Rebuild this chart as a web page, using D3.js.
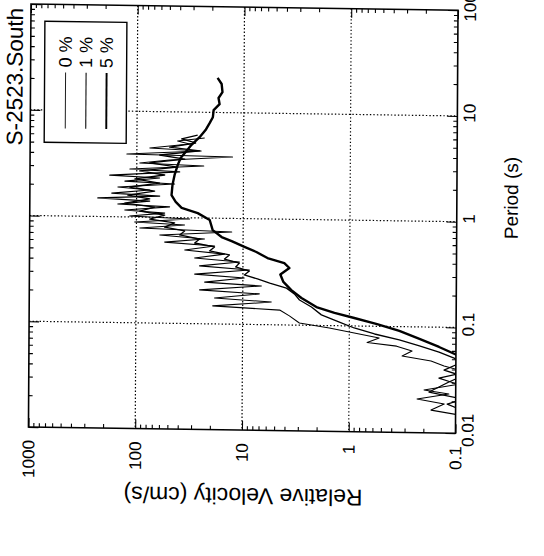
<!DOCTYPE html>
<html><head><meta charset="utf-8">
<script src="https://cdn.jsdelivr.net/npm/d3@7"></script>
<style>
html,body{margin:0;padding:0;background:#fff;}
svg{display:block;}
text{font-family:"Liberation Sans",Arial,Helvetica,sans-serif;fill:#000;}
</style></head><body>
<svg id="chart" width="544" height="556"></svg>
<script>
// Axis ticks and labels
const velocityTicks = [1000, 100, 10, 1, 0.1];
const velocityTickLabels = ["1000", "100", "10", "1", "0.1"];
const periodTicks = [0.01, 0.1, 1, 10, 100];
const periodTickLabels = ["0.01", "0.1", "1", "10", "100"];
const seriesNames = ["0 %", "1 %", "5 %"];
const seriesWidths = [1.1, 1.3, 2.4];

// 0 % damping: period (s) and relative velocity (cm/s)
const period0 = [5.71, 5.30, 4.99, 4.51, 4.30, 3.94, 3.81, 3.50, 3.25, 3.10, 2.84, 2.71, 2.47, 2.36, 2.18, 2.08, 1.91, 1.81, 1.67, 1.59, 1.50, 1.42, 1.32, 1.26, 1.16, 1.10, 1.02, 0.975, 0.897, 0.853, 0.789, 0.743, 0.682, 0.633, 0.585, 0.546, 0.495, 0.459, 0.418, 0.388, 0.352, 0.327, 0.294, 0.274, 0.248, 0.232, 0.209, 0.195, 0.176, 0.164, 0.148, 0.138, 0.122, 0.105, 0.0948, 0.0875, 0.0776, 0.070, 0.0653, 0.059, 0.0528, 0.0478, 0.043, 0.038, 0.033, 0.029, 0.0254, 0.0234, 0.0208, 0.0188, 0.0164, 0.0148];
const vel0 = [23.2, 41.6, 32.1, 75.7, 25.0, 124, 12.7, 49.3, 93.8, 23.6, 116, 39.6, 179, 61, 129, 44.1, 150, 75.5, 171, 60.7, 231, 75.3, 150, 49, 129, 54.4, 116, 31.8, 104, 35.4, 93, 12.8, 60.4, 23, 54.3, 18.5, 35.2, 14.9, 28.4, 10.8, 25.5, 8.7, 28.3, 9.7, 22.8, 6.7, 25.4, 7.0, 18.4, 5.4, 19.1, 4.5, 3.65, 2.94, 1.54, 1.0, 0.525, 0.68, 0.36, 0.258, 0.319, 0.171, 0.129, 0.08, 0.144, 0.095, 0.198, 0.116, 0.23, 0.128, 0.17, 0.09];

// 1 % damping
const period1 = [6.08, 5.55, 5.11, 4.64, 4.30, 3.89, 3.59, 3.26, 3.01, 2.73, 2.52, 2.29, 2.11, 1.92, 1.77, 1.61, 1.49, 1.35, 1.25, 1.14, 1.05, 0.96, 0.89, 0.81, 0.75, 0.686, 0.632, 0.579, 0.535, 0.489, 0.451, 0.412, 0.379, 0.348, 0.320, 0.293, 0.270, 0.248, 0.223, 0.197, 0.173, 0.149, 0.126, 0.108, 0.0957, 0.0845, 0.0748, 0.066, 0.0582, 0.0513, 0.046, 0.0394, 0.0348, 0.0304, 0.0243, 0.021, 0.0188, 0.016];
const vel1 = [27.0, 38.1, 28.2, 49.3, 25.8, 61.1, 35.6, 75.7, 41.4, 93.8, 54.7, 104, 61, 116, 67.8, 121, 75.3, 129, 67.6, 93.3, 54.4, 75.2, 43.9, 54.4, 35.3, 39.3, 25.5, 28.4, 18.5, 20.6, 13.4, 14.9, 10.8, 11.7, 8.7, 9.7, 7.3, 5.6, 3.9, 3.29, 2.94, 2.27, 1.83, 1.24, 0.90, 0.58, 0.34, 0.22, 0.144, 0.104, 0.092, 0.129, 0.087, 0.116, 0.178, 0.085, 0.12, 0.08];

// 5 % damping
const period5 = [21.2, 18.6, 15.6, 13.7, 12.0, 10.5, 9.0, 7.9, 6.8, 5.8, 4.9, 4.18, 3.67, 3.14, 2.53, 2.03, 1.63, 1.41, 1.24, 1.11, 0.96, 0.77, 0.665, 0.61, 0.54, 0.485, 0.427, 0.385, 0.346, 0.30, 0.255, 0.214, 0.181, 0.149, 0.132, 0.119, 0.105, 0.091, 0.077, 0.065, 0.055, 0.048];
const vel5 = [17.7, 16.2, 15.9, 17.3, 16.9, 19.2, 19.5, 20.9, 22.8, 25.9, 30.8, 34.9, 38.9, 41.4, 44.2, 46.2, 47.1, 43, 37.8, 26.7, 20.6, 19.3, 15.9, 12.8, 9.7, 7.5, 5.9, 4.1, 3.67, 4.46, 4.17, 3.51, 2.82, 2.04, 1.38, 0.90, 0.55, 0.34, 0.22, 0.144, 0.098, 0.08];

const periods = [period0, period1, period5];
const velocities = [vel0, vel1, vel5];

// ---- layout ----
const svg = d3.select("#chart");
const frameL = 31, frameR = 458, frameT = 4, frameB = 427;

const x = d3.scaleLog().domain([1000, 0.1]).range([frameL, frameR]);   // velocity
const y = d3.scaleLog().domain([100, 0.01]).range([frameT, frameB]);   // period

// slight skew of the whole sheet, pivoting on the frame's upper-left corner
const kx = 0.0145, ky = -0.006;
const g = svg.append("g")
  .attr("transform", `matrix(1,${kx},${ky},1,${-ky * frameT},${-kx * frameL})`);

svg.append("defs").append("clipPath").attr("id", "plotClip")
  .append("rect").attr("x", frameL).attr("y", frameT)
  .attr("width", frameR - frameL).attr("height", frameB - frameT);

function minorValues(lo, hi) {
  const out = [];
  for (let e = Math.round(Math.log10(lo)); e < Math.round(Math.log10(hi)); e++) {
    for (let m = 2; m <= 9; m++) out.push(m * Math.pow(10, e));
  }
  return out;
}
const vMinor = minorValues(0.1, 1000);
const pMinor = minorValues(0.01, 100);

// dotted grid
const grid = g.append("g").attr("stroke", "#000").attr("stroke-width", 1.2)
  .attr("stroke-dasharray", "1.4,2.1").attr("fill", "none");
grid.selectAll(".gv").data(velocityTicks.slice(1, -1)).join("line")
  .attr("x1", d => x(d)).attr("x2", d => x(d)).attr("y1", frameT).attr("y2", frameB);
grid.selectAll(".gh").data(periodTicks.slice(1, -1)).join("line")
  .attr("y1", d => y(d)).attr("y2", d => y(d)).attr("x1", frameL).attr("x2", frameR);

// ticks on all four sides, pointing inward
function tickAxis(axisFn, scale, values, size, tx, ty) {
  const a = g.append("g").attr("transform", `translate(${tx},${ty})`)
    .call(axisFn(scale).tickValues(values).tickSize(size).tickFormat(""));
  a.select(".domain").remove();
  a.selectAll("line").attr("stroke", "#000").attr("stroke-width", 1.1);
}
tickAxis(d3.axisBottom, x, velocityTicks, 9, 0, frameT);
tickAxis(d3.axisBottom, x, vMinor, 4, 0, frameT);
tickAxis(d3.axisTop, x, velocityTicks, 9, 0, frameB);
tickAxis(d3.axisTop, x, vMinor, 4, 0, frameB);
tickAxis(d3.axisRight, y, periodTicks, 10, frameL, 0);
tickAxis(d3.axisRight, y, pMinor, 4, frameL, 0);
tickAxis(d3.axisLeft, y, periodTicks, 10, frameR, 0);
tickAxis(d3.axisLeft, y, pMinor, 4, frameR, 0);

// spectra
const line = d3.line().x(d => x(d[1])).y(d => y(d[0])).curve(d3.curveLinear);
const curves = g.append("g").attr("clip-path", "url(#plotClip)");
periods.forEach((ps, i) => {
  const pts = ps.map((p, j) => [p, velocities[i][j]]);
  curves.append("path").datum(pts).attr("d", line)
    .attr("fill", "none").attr("stroke", "#000")
    .attr("stroke-width", seriesWidths[i]).attr("stroke-linejoin", "round");
});

// frame
g.append("rect").attr("x", frameL).attr("y", frameT).attr("width", frameR - frameL)
  .attr("height", frameB - frameT).attr("fill", "none")
  .attr("stroke", "#000").attr("stroke-width", 1.6);

// legend
const lg = g.append("g");
lg.append("rect").attr("x", 45).attr("y", 21).attr("width", 82).attr("height", 121)
  .attr("fill", "#fff").attr("stroke", "#000").attr("stroke-width", 1.4);
const legendX = d3.scalePoint().domain(seriesNames).range([66, 107]);
seriesNames.forEach((name, i) => {
  const cx = legendX(name);
  lg.append("line").attr("x1", cx).attr("x2", cx).attr("y1", 128).attr("y2", 72)
    .attr("stroke", "#000").attr("stroke-width", seriesWidths[i] * 0.8);
  lg.append("text").attr("transform", `translate(${cx + 6},67) rotate(-90)`)
    .attr("font-size", 18).text(name);
});

// title
g.append("text").attr("transform", "translate(23,8) rotate(-90)")
  .attr("text-anchor", "end").attr("font-size", 22.5).text("S-2523.South");

// velocity tick labels
velocityTicks.forEach((v, i) => {
  g.append("text").attr("transform", `translate(${x(v) + 6},440) rotate(-90)`)
    .attr("text-anchor", "end").attr("font-size", 17).text(velocityTickLabels[i]);
});
// period tick labels
periodTicks.forEach((p, i) => {
  g.append("text").attr("transform", `translate(476,${y(p) - 3}) rotate(-90)`)
    .attr("text-anchor", "middle").attr("font-size", 17).text(periodTickLabels[i]);
});

// axis titles
g.append("text").attr("transform", "translate(246,485) rotate(180)")
  .attr("text-anchor", "middle").attr("font-size", 23).text("Relative Velocity (cm/s)");
g.append("text").attr("transform", "translate(519,191) rotate(-90)")
  .attr("text-anchor", "middle").attr("font-size", 19).text("Period (s)");
</script>
</body></html>
